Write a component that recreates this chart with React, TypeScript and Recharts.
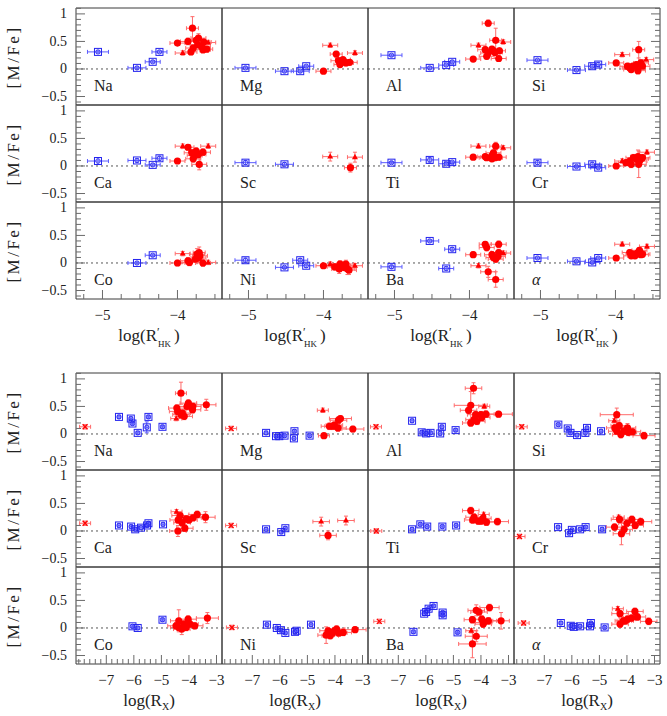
import React from "react"
import { ScatterChart, Scatter, XAxis, YAxis, ErrorBar, ReferenceLine } from "recharts"

type Pt = number[]

const elements = ["Na", "Mg", "Al", "Si", "Ca", "Sc", "Ti", "Cr", "Co", "Ni", "Ba", "α"]

// upper block, x = log(R'HK); points are [x, y, xErr, yErr]
const hkInactive: Record<string, Pt[]> = {
    Na: [[-5.06, 0.31, 0.14, 0.02], [-4.54, 0.02, 0.12, 0.02], [-4.33, 0.13, 0.1, 0.02], [-4.24, 0.31, 0.1, 0.02]],
    Mg: [[-5.04, 0.02, 0.14, 0.02], [-4.52, -0.04, 0.12, 0.02], [-4.31, -0.04, 0.12, 0.02], [-4.23, 0.05, 0.1, 0.02]],
    Al: [[-5.04, 0.25, 0.14, 0.02], [-4.53, 0.02, 0.12, 0.02], [-4.31, 0.07, 0.1, 0.02], [-4.23, 0.13, 0.1, 0.02]],
    Si: [[-5.04, 0.16, 0.14, 0.02], [-4.52, -0.02, 0.12, 0.02], [-4.31, 0.05, 0.1, 0.03], [-4.23, 0.08, 0.1, 0.04]],
    Ca: [[-5.06, 0.09, 0.14, 0.06], [-4.54, 0.1, 0.12, 0.03], [-4.33, 0.02, 0.1, 0.02], [-4.24, 0.14, 0.1, 0.04]],
    Sc: [[-5.04, 0.06, 0.14, 0.04], [-4.52, 0.03, 0.12, 0.03]],
    Ti: [[-5.04, 0.06, 0.14, 0.02], [-4.53, 0.11, 0.12, 0.04], [-4.31, 0.04, 0.1, 0.02], [-4.23, 0.07, 0.1, 0.02]],
    Cr: [[-5.04, 0.06, 0.14, 0.04], [-4.52, -0.01, 0.12, 0.02], [-4.31, 0.03, 0.1, 0.04], [-4.23, -0.03, 0.1, 0.02]],
    Co: [[-4.54, 0.0, 0.12, 0.02], [-4.33, 0.14, 0.1, 0.02]],
    Ni: [[-5.04, 0.05, 0.14, 0.04], [-4.52, -0.08, 0.12, 0.02], [-4.31, 0.05, 0.1, 0.03], [-4.23, -0.05, 0.1, 0.03]],
    Ba: [[-5.04, -0.07, 0.14, 0.03], [-4.53, 0.4, 0.12, 0.02], [-4.23, 0.25, 0.1, 0.03], [-4.31, -0.1, 0.1, 0.03]],
    α: [[-5.04, 0.09, 0.14, 0.02], [-4.52, 0.03, 0.12, 0.02], [-4.31, 0.01, 0.1, 0.02], [-4.23, 0.09, 0.1, 0.02]],
}

const hkActive: Record<string, Pt[]> = {
    Na: [[-4.0, 0.47, 0.1, 0.04], [-3.8, 0.74, 0.08, 0.21], [-3.86, 0.5, 0.1, 0.06], [-3.75, 0.52, 0.1, 0.05], [-3.72, 0.56, 0.1, 0.08], [-3.65, 0.49, 0.1, 0.06], [-3.79, 0.38, 0.1, 0.06], [-3.82, 0.31, 0.08, 0.05], [-3.68, 0.41, 0.12, 0.1], [-3.66, 0.35, 0.1, 0.06], [-3.61, 0.36, 0.08, 0.05], [-3.73, 0.44, 0.1, 0.05]],
    Mg: [[-4.0, -0.04, 0.1, 0.03], [-3.83, 0.27, 0.08, 0.05], [-3.8, 0.15, 0.1, 0.04], [-3.74, 0.17, 0.1, 0.04], [-3.78, 0.08, 0.08, 0.04], [-3.7, 0.11, 0.1, 0.04], [-3.65, 0.12, 0.1, 0.04], [-3.72, 0.13, 0.1, 0.04]],
    Al: [[-3.75, 0.83, 0.08, 0.06], [-3.95, 0.18, 0.1, 0.04], [-3.79, 0.35, 0.1, 0.05], [-3.77, 0.23, 0.1, 0.05], [-3.7, 0.36, 0.1, 0.05], [-3.65, 0.52, 0.08, 0.22], [-3.66, 0.3, 0.1, 0.05], [-3.68, 0.33, 0.1, 0.05], [-3.6, 0.33, 0.08, 0.05], [-3.61, 0.19, 0.1, 0.05], [-3.75, 0.29, 0.1, 0.05]],
    Si: [[-3.99, 0.11, 0.1, 0.04], [-3.69, 0.35, 0.08, 0.15], [-3.81, 0.02, 0.1, 0.05], [-3.77, 0.05, 0.1, 0.05], [-3.72, 0.08, 0.1, 0.05], [-3.7, -0.03, 0.1, 0.06], [-3.66, 0.11, 0.1, 0.05], [-3.79, -0.01, 0.1, 0.05], [-3.84, 0.05, 0.1, 0.05], [-3.64, 0.05, 0.1, 0.05]],
    Ca: [[-4.0, 0.09, 0.1, 0.04], [-3.86, 0.34, 0.08, 0.05], [-3.81, 0.24, 0.1, 0.06], [-3.79, 0.13, 0.1, 0.06], [-3.75, 0.27, 0.1, 0.06], [-3.72, 0.21, 0.1, 0.06], [-3.71, 0.03, 0.1, 0.1], [-3.66, 0.25, 0.1, 0.06], [-3.77, 0.19, 0.1, 0.06]],
    Sc: [[-3.64, -0.03, 0.08, 0.08]],
    Ti: [[-3.95, 0.16, 0.1, 0.04], [-3.79, 0.17, 0.1, 0.04], [-3.77, 0.15, 0.1, 0.04], [-3.7, 0.19, 0.1, 0.05], [-3.65, 0.36, 0.08, 0.07], [-3.68, 0.24, 0.1, 0.05], [-3.66, 0.15, 0.1, 0.05], [-3.61, 0.16, 0.1, 0.05], [-3.7, 0.13, 0.1, 0.05]],
    Cr: [[-3.99, 0.0, 0.1, 0.04], [-3.81, 0.09, 0.1, 0.06], [-3.79, 0.03, 0.1, 0.06], [-3.72, 0.12, 0.1, 0.08], [-3.7, 0.17, 0.1, 0.12], [-3.68, 0.09, 0.1, 0.06], [-3.66, 0.13, 0.1, 0.06], [-3.64, 0.15, 0.1, 0.06], [-3.76, 0.15, 0.1, 0.06], [-3.69, 0.03, 0.1, 0.24], [-3.86, 0.06, 0.1, 0.05]],
    Co: [[-4.0, 0.0, 0.1, 0.05], [-3.86, 0.04, 0.1, 0.06], [-3.84, 0.01, 0.1, 0.06], [-3.74, 0.16, 0.1, 0.1], [-3.72, 0.09, 0.1, 0.08], [-3.7, 0.13, 0.1, 0.08], [-3.71, 0.19, 0.08, 0.1], [-3.66, 0.0, 0.1, 0.06], [-3.76, 0.07, 0.1, 0.06]],
    Ni: [[-4.0, -0.05, 0.1, 0.04], [-3.85, -0.07, 0.1, 0.06], [-3.79, -0.11, 0.1, 0.08], [-3.74, -0.05, 0.1, 0.08], [-3.7, -0.02, 0.1, 0.07], [-3.68, -0.11, 0.1, 0.1], [-3.66, -0.13, 0.1, 0.08], [-3.72, -0.08, 0.1, 0.06], [-3.78, -0.02, 0.1, 0.06]],
    Ba: [[-3.95, 0.15, 0.1, 0.05], [-3.79, 0.34, 0.08, 0.05], [-3.77, 0.28, 0.1, 0.06], [-3.7, 0.15, 0.1, 0.06], [-3.68, 0.1, 0.1, 0.06], [-3.65, 0.07, 0.1, 0.06], [-3.61, 0.34, 0.1, 0.06], [-3.61, 0.19, 0.1, 0.06], [-3.75, -0.16, 0.1, 0.1], [-3.65, -0.3, 0.1, 0.14], [-3.62, 0.12, 0.1, 0.06]],
    α: [[-3.99, 0.09, 0.1, 0.04], [-3.81, 0.19, 0.1, 0.05], [-3.79, 0.13, 0.1, 0.05], [-3.74, 0.13, 0.1, 0.05], [-3.7, 0.19, 0.1, 0.05], [-3.68, 0.23, 0.1, 0.05], [-3.66, 0.15, 0.1, 0.05], [-3.64, 0.16, 0.1, 0.05], [-3.76, 0.16, 0.1, 0.05]],
}

const hkTriangles: Record<string, Pt[]> = {
    Na: [[-3.93, 0.29], [-3.59, 0.48]],
    Mg: [[-3.91, 0.43], [-3.58, 0.29]],
    Al: [[-3.88, 0.43], [-3.55, 0.49]],
    Si: [[-3.91, 0.26], [-3.59, 0.17]],
    Ca: [[-3.93, 0.36], [-3.59, 0.36]],
    Sc: [[-3.91, 0.17, 0.1, 0.08], [-3.58, 0.16, 0.1, 0.09]],
    Ti: [[-3.88, 0.36], [-3.55, 0.33]],
    Cr: [[-3.91, 0.09], [-3.58, 0.25]],
    Co: [[-3.93, 0.17], [-3.59, 0.01]],
    Ni: [[-3.91, -0.02], [-3.58, -0.05]],
    Ba: [[-3.88, -0.05], [-3.55, 0.18]],
    α: [[-3.91, 0.34], [-3.58, 0.3]],
}

// lower block, x = log(RX)
const rxInactive: Record<string, Pt[]> = {
    Na: [[-6.54, 0.31], [-6.11, 0.28], [-6.05, 0.19], [-5.86, 0.02], [-5.53, 0.12, 0.05, 0.1], [-5.47, 0.31], [-4.96, 0.13]],
    Mg: [[-6.5, 0.02], [-6.14, -0.04], [-6.02, -0.04], [-5.83, -0.03], [-5.47, 0.05], [-5.49, -0.08], [-4.92, -0.03]],
    Al: [[-6.5, 0.24], [-6.15, 0.03], [-5.99, 0.01], [-5.83, 0.02], [-5.48, 0.01], [-5.42, 0.13], [-4.92, 0.07]],
    Si: [[-6.49, 0.17], [-6.15, 0.1], [-6.05, 0.02], [-5.81, -0.02], [-5.51, 0.02, 0.05, 0.06], [-5.45, 0.11], [-4.94, 0.05]],
    Ca: [[-6.54, 0.1], [-6.1, 0.08], [-5.95, 0.03], [-5.74, 0.06], [-5.52, 0.1], [-5.47, 0.14], [-4.94, 0.12]],
    Sc: [[-6.5, 0.03], [-5.95, -0.02], [-5.8, 0.05]],
    Ti: [[-6.5, 0.03], [-6.2, 0.12], [-5.95, 0.08], [-5.4, 0.08], [-4.9, 0.1]],
    Cr: [[-6.5, 0.07], [-6.1, -0.04], [-6.0, 0.02], [-5.7, 0.03], [-5.5, 0.07], [-4.9, 0.03]],
    Co: [[-6.05, 0.03], [-5.86, 0.0], [-4.96, 0.15]],
    Ni: [[-6.47, 0.06], [-6.11, 0.0], [-5.96, -0.04], [-5.8, -0.09], [-5.45, -0.07], [-5.39, -0.05], [-4.87, 0.06]],
    Ba: [[-6.45, -0.07], [-6.06, 0.26], [-5.99, 0.29], [-5.9, 0.35], [-5.72, 0.4], [-5.39, 0.28], [-5.39, 0.23], [-4.85, -0.08]],
    α: [[-6.4, 0.09], [-6.04, 0.04], [-5.93, 0.02], [-5.7, 0.03], [-5.34, 0.03], [-5.31, 0.09], [-4.81, 0.01]],
}

const rxActive: Record<string, Pt[]> = {
    Na: [[-4.29, 0.74, 0.2, 0.2], [-4.44, 0.47], [-4.41, 0.41], [-4.29, 0.35], [-4.17, 0.32], [-4.02, 0.56], [-3.86, 0.5], [-3.87, 0.44], [-3.37, 0.53, 0.35, 0.1], [-4.07, 0.5], [-4.24, 0.38]],
    Mg: [[-4.4, -0.03, 0.2, 0.03], [-4.2, 0.14], [-4.02, 0.16], [-3.89, 0.11], [-3.87, 0.25], [-3.8, 0.28, 0.4, 0.05], [-3.35, 0.09, 0.4, 0.05], [-4.07, 0.14]],
    Al: [[-4.27, 0.83, 0.3, 0.1], [-4.37, 0.52, 0.6, 0.25], [-4.45, 0.43], [-4.19, 0.35], [-4.0, 0.35], [-3.82, 0.36], [-3.36, 0.36, 0.5, 0.05], [-4.25, 0.26], [-4.37, 0.2], [-4.15, 0.23], [-3.97, 0.3]],
    Si: [[-4.37, 0.35, 0.6, 0.12], [-4.44, 0.11], [-4.37, 0.05], [-4.22, -0.01], [-4.12, 0.05], [-3.98, 0.11, 0.3, 0.08], [-3.8, 0.04], [-3.38, -0.03, 0.4, 0.06], [-4.28, 0.15], [-3.95, 0.03]],
    Ca: [[-4.39, 0.2], [-4.32, 0.28], [-4.25, 0.15], [-4.15, 0.05], [-4.0, 0.2], [-3.85, 0.24], [-3.7, 0.3], [-3.4, 0.25, 0.35, 0.1], [-4.4, 0.0, 0.3, 0.1], [-4.1, 0.22]],
    Sc: [[-4.25, -0.08, 0.3, 0.08]],
    Ti: [[-4.37, 0.37], [-4.25, 0.25], [-4.1, 0.18], [-3.93, 0.23], [-3.8, 0.16], [-3.4, 0.17, 0.4, 0.06], [-4.3, 0.2], [-4.0, 0.18]],
    Cr: [[-4.45, 0.07], [-4.27, 0.21], [-4.1, 0.03], [-4.0, 0.14], [-3.82, 0.21], [-3.5, 0.17, 0.4, 0.06], [-4.2, -0.05, 0.3, 0.2], [-3.7, 0.1]],
    Co: [[-4.37, 0.13, 0.3, 0.2], [-4.37, 0.01], [-4.26, -0.02, 0.3, 0.1], [-4.18, 0.07], [-4.03, 0.16], [-3.96, 0.07], [-3.79, 0.04], [-3.33, 0.18, 0.4, 0.1], [-4.47, 0.04], [-4.1, 0.01]],
    Ni: [[-4.25, -0.05], [-4.32, -0.13, 0.3, 0.15], [-4.09, -0.09], [-3.94, -0.02], [-3.86, -0.09], [-3.7, -0.08], [-3.27, -0.03, 0.4, 0.05], [-4.17, -0.14], [-4.02, -0.05]],
    Ba: [[-4.31, -0.29, 0.5, 0.25], [-4.17, -0.15, 0.4, 0.1], [-4.31, 0.15], [-4.17, 0.32, 0.3, 0.1], [-4.07, 0.29], [-3.97, 0.16], [-3.9, 0.1], [-3.73, 0.13], [-3.69, 0.37, 0.35, 0.06], [-3.27, 0.13, 0.3, 0.15], [-3.92, 0.07]],
    α: [[-4.25, 0.26], [-4.13, 0.13], [-4.25, 0.07], [-3.98, 0.16], [-3.83, 0.18], [-3.71, 0.3], [-3.62, 0.2], [-3.21, 0.12], [-4.06, 0.13]],
}

const rxTriangles: Record<string, Pt[]> = {
    Na: [[-4.46, 0.28]],
    Mg: [[-4.44, 0.43]],
    Al: [[-3.88, 0.5]],
    Si: [[-4.46, 0.24]],
    Ca: [[-4.45, 0.35]],
    Sc: [[-4.5, 0.17, 0.3, 0.08], [-3.6, 0.19, 0.3, 0.08]],
    Ti: [[-3.9, 0.3]],
    Cr: [[-4.3, 0.25]],
    Co: [],
    Ni: [],
    Ba: [[-4.35, -0.05]],
    α: [[-4.33, 0.35]],
}

const rxStars: Record<string, Pt[]> = {
    Na: [[-7.77, 0.13]], Mg: [[-7.77, 0.1]], Al: [[-7.81, 0.13]], Si: [[-7.82, 0.13]],
    Ca: [[-7.77, 0.14]], Sc: [[-7.77, 0.1]], Ti: [[-7.8, 0.0]], Cr: [[-7.9, -0.1]],
    Co: [], Ni: [[-7.74, 0.01]], Ba: [[-7.69, 0.12]], α: [[-7.75, 0.09]],
}

const hkMajorX = [-5, -4]
const rxMajorX = [-7, -6, -5, -4, -3]
const yMajor = [-0.5, 0, 0.5, 1]

const PW = 146
const PH = 97
const PAD = 40
const X0 = 76
const Y_DOMAIN: [number, number] = [-0.654, 1.107]
const FONT = "'Times New Roman', 'Liberation Serif', 'DejaVu Serif', serif"
const FRAME = "#3a3a3a"
const TICK = "#6a6a6a"
const RED = "#ff0000"
const RED_ERR = "#ff6b6b"
const BLUE = "#2323ee"
const BLUE_ERR = "#5c5cff"

function stepTicks(lo: number, hi: number, step: number) {
    const out: number[] = []
    for (let k = Math.ceil(lo / step - 1e-9); k * step < hi - 1e-9; k++) out.push(Math.round(k * step * 1000) / 1000)
    return out
}

const fmt = (v: number) => (v < 0 ? "\u2212" : "") + String(Math.abs(v))
const has = (list: number[], v: number) => list.some((m) => Math.abs(m - v) < 1e-6)

const rows = (pts: Pt[], xe: number, ye: number) =>
    pts.map((p) => ({ x: p[0], y: p[1], xe: p[2] ?? xe, ye: p[3] ?? ye }))

const blocks = [
    {
        key: "hk",
        top: 8,
        xDomain: [-5.353, -3.406] as [number, number],
        xTicks: stepTicks(-5.353, -3.406, 0.25),
        xMajor: hkMajorX,
        inactive: hkInactive, active: hkActive, tri: hkTriangles, stars: {} as Record<string, Pt[]>,
        err: { blue: [0.1, 0.02], red: [0.1, 0.05], star: [0.1, 0.04] },
    },
    {
        key: "rx",
        top: 373,
        xDomain: [-8.1, -2.8] as [number, number],
        xTicks: stepTicks(-8.1, -2.8, 0.2),
        xMajor: rxMajorX,
        inactive: rxInactive, active: rxActive, tri: rxTriangles, stars: rxStars,
        err: { blue: [0.05, 0.03], red: [0.3, 0.06], star: [0.2, 0.04] },
    },
]

const yTicks = stepTicks(Y_DOMAIN[0], Y_DOMAIN[1], 0.1)

function xTick(side: "top" | "bottom", majors: number[]) {
    return (p: any) => {
        const v = p.payload.value
        const major = has(majors, v)
        const dir = side === "bottom" ? -1 : 1
        return (
            <g>
                <line x1={p.x} x2={p.x} y1={p.y} y2={p.y + dir * (major ? 9 : 5)} stroke={TICK} />
                {side === "bottom" && major ? (
                    <text x={p.x} y={p.y + 21} textAnchor="middle" fontSize={15} fontFamily={FONT} fill="#222">
                        {fmt(v)}
                    </text>
                ) : null}
            </g>
        )
    }
}

function yTick(side: "left" | "right") {
    return (p: any) => {
        const v = p.payload.value
        const major = has(yMajor, v)
        const dir = side === "left" ? 1 : -1
        return (
            <g>
                <line x1={p.x} x2={p.x + dir * (major ? 9 : 5)} y1={p.y} y2={p.y} stroke={TICK} />
                {side === "left" && major ? (
                    <text x={p.x - 9} y={p.y + 4.5} textAnchor="end" fontSize={14} fontFamily={FONT} fill="#222">
                        {fmt(v)}
                    </text>
                ) : null}
            </g>
        )
    }
}

const squareShape = (p: any) => (
    <g>
        <rect x={p.cx - 3.5} y={p.cy - 3.5} width={7} height={7} fill="none" stroke={BLUE} strokeWidth={1} />
        <circle cx={p.cx} cy={p.cy} r={2.2} fill="none" stroke={BLUE} strokeWidth={0.8} />
    </g>
)
const dotShape = (p: any) => <circle cx={p.cx} cy={p.cy} r={3.6} fill={RED} />
const triShape = (p: any) => (
    <path d={`M${p.cx},${p.cy - 3.4}L${p.cx + 3},${p.cy + 2}L${p.cx - 3},${p.cy + 2}Z`} fill={RED} />
)
const starShape = (p: any) => (
    <path
        d={`M${p.cx - 2.5},${p.cy - 2.5}L${p.cx + 2.5},${p.cy + 2.5}M${p.cx + 2.5},${p.cy - 2.5}L${p.cx - 2.5},${p.cy + 2.5}`}
        stroke={RED}
        strokeWidth={1.3}
    />
)

function Panel({ block, el, idx }: { block: (typeof blocks)[number]; el: string; idx: number }) {
    const row = Math.floor(idx / 4)
    const col = idx % 4
    const left = X0 + col * PW
    const top = block.top + row * PH
    const e = block.err
    const series = [
        { data: rows(block.inactive[el] || [], e.blue[0], e.blue[1]), shape: squareShape, err: BLUE_ERR },
        { data: rows(block.stars[el] || [], e.star[0], e.star[1]), shape: starShape, err: RED_ERR },
        { data: rows(block.tri[el] || [], e.star[0], e.star[1]), shape: triShape, err: RED_ERR },
        { data: rows(block.active[el] || [], e.red[0], e.red[1]), shape: dotShape, err: RED_ERR },
    ]
    return (
        <div style={{ position: "absolute", left: left - PAD, top: top - PAD }}>
            <ScatterChart width={PW + 2 * PAD} height={PH + 2 * PAD} margin={{ top: 0, right: 0, bottom: 0, left: 0 }}>
                <XAxis xAxisId="b" type="number" dataKey="x" orientation="bottom" domain={block.xDomain} allowDataOverflow
                    ticks={block.xTicks} interval={0} height={PAD} tickSize={0} tickMargin={0} tickLine={false}
                    axisLine={{ stroke: FRAME }} tick={row === 2 ? xTick("bottom", block.xMajor) : false} />
                <XAxis xAxisId="t" type="number" orientation="top" domain={block.xDomain} allowDataOverflow
                    ticks={block.xTicks} interval={0} height={PAD} tickSize={0} tickMargin={0} tickLine={false}
                    axisLine={{ stroke: FRAME }} tick={row === 0 ? xTick("top", block.xMajor) : false} />
                <YAxis yAxisId="l" type="number" dataKey="y" orientation="left" domain={Y_DOMAIN} allowDataOverflow
                    ticks={yTicks} interval={0} width={PAD} tickSize={0} tickMargin={0} tickLine={false}
                    axisLine={{ stroke: FRAME }} tick={col === 0 ? yTick("left") : false} />
                <YAxis yAxisId="r" type="number" orientation="right" domain={Y_DOMAIN} allowDataOverflow
                    ticks={yTicks} interval={0} width={PAD} tickSize={0} tickMargin={0} tickLine={false}
                    axisLine={{ stroke: FRAME }} tick={col === 3 ? yTick("right") : false} />
                <ReferenceLine xAxisId="b" yAxisId="l" y={0} stroke="#555" strokeDasharray="2 3" />
                {series.map((s, i) => (
                    <Scatter key={i} xAxisId="b" yAxisId="l" data={s.data} shape={s.shape} isAnimationActive={false}>
                        <ErrorBar dataKey="xe" direction="x" width={2} stroke={s.err} strokeWidth={1} isAnimationActive={false} />
                        <ErrorBar dataKey="ye" direction="y" width={2} stroke={s.err} strokeWidth={1} isAnimationActive={false} />
                    </Scatter>
                ))}
            </ScatterChart>
            <div style={{ position: "absolute", left: PAD + 18, top: PAD + 70, fontFamily: FONT, fontSize: 16, lineHeight: 1, color: "#222", fontStyle: el === "α" ? "italic" : "normal" }}>
                {el}
            </div>
        </div>
    )
}

function XTitle({ kind }: { kind: string }) {
    if (kind === "hk") {
        return (
            <span>
                log(R
                <span style={{ display: "inline-block", position: "relative", width: 17, height: 10 }}>
                    <span style={{ position: "absolute", left: 0, top: -9, fontSize: 12 }}>′</span>
                    <span style={{ position: "absolute", left: 1, top: 3, fontSize: 9 }}>HK</span>
                </span>
                )
            </span>
        )
    }
    return (
        <span>
            log(R<sub style={{ fontSize: 10, verticalAlign: "-4px" }}>X</sub>)
        </span>
    )
}

export default function App() {
    return (
        <div style={{ position: "absolute", left: 0, top: 0, width: 667, height: 716, background: "#fff", overflow: "hidden" }}>
            {blocks.map((b) => (
                <React.Fragment key={b.key}>
                    {elements.map((el, i) => (
                        <Panel key={b.key + el} block={b} el={el} idx={i} />
                    ))}
                    {[0, 1, 2].map((r) => (
                        <div key={"yt" + r} style={{ position: "absolute", left: 14, top: b.top + r * PH + 49, transform: "translate(-50%, -50%) rotate(-90deg)", fontFamily: FONT, fontSize: 17, letterSpacing: 2.5, whiteSpace: "nowrap", color: "#222" }}>
                            [M/Fe]
                        </div>
                    ))}
                    {[0, 1, 2, 3].map((c) => (
                        <div key={"xt" + c} style={{ position: "absolute", left: X0 + c * PW, width: PW, top: b.top + 3 * PH + 27, textAlign: "center", fontFamily: FONT, fontSize: 17, lineHeight: "20px", color: "#222", whiteSpace: "nowrap" }}>
                            <XTitle kind={b.key} />
                        </div>
                    ))}
                </React.Fragment>
            ))}
        </div>
    )
}
